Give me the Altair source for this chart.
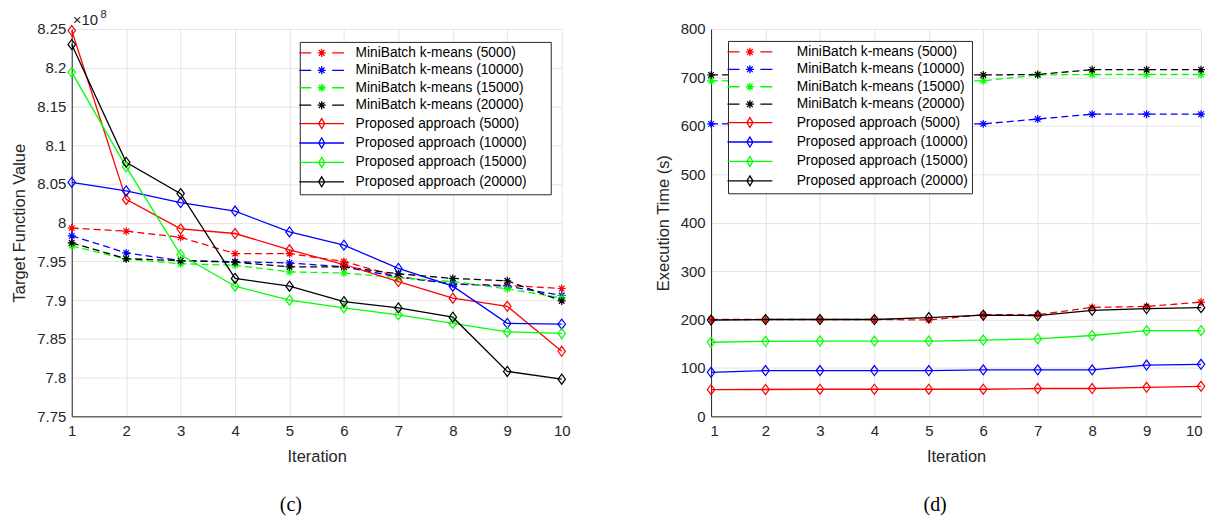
import altair as alt
import pandas as pd

# ---------------- data ----------------
iterations = [1, 2, 3, 4, 5, 6, 7, 8, 9, 10]

series_names = [
    "MiniBatch k-means (5000)",
    "MiniBatch k-means (10000)",
    "MiniBatch k-means (15000)",
    "MiniBatch k-means (20000)",
    "Proposed approach (5000)",
    "Proposed approach (10000)",
    "Proposed approach (15000)",
    "Proposed approach (20000)",
]
series_colors = ["#ff0000", "#0000ff", "#00ff00", "#000000",
                 "#ff0000", "#0000ff", "#00ff00", "#000000"]

# (c) Target function value
mb_5000_tfv = [7.993e8, 7.989e8, 7.981e8, 7.960e8, 7.960e8, 7.950e8, 7.930e8, 7.921e8, 7.919e8, 7.915e8]
mb_10000_tfv = [7.983e8, 7.961e8, 7.951e8, 7.9495e8, 7.948e8, 7.943e8, 7.930e8, 7.921e8, 7.918e8, 7.906e8]
mb_15000_tfv = [7.970e8, 7.953e8, 7.947e8, 7.945e8, 7.9365e8, 7.935e8, 7.929e8, 7.924e8, 7.9145e8, 7.903e8]
mb_20000_tfv = [7.974e8, 7.9535e8, 7.951e8, 7.949e8, 7.943e8, 7.943e8, 7.934e8, 7.928e8, 7.925e8, 7.899e8]
pa_5000_tfv = [8.248e8, 8.030e8, 7.992e8, 7.986e8, 7.965e8, 7.946e8, 7.924e8, 7.9025e8, 7.892e8, 7.834e8]
pa_10000_tfv = [8.052e8, 8.041e8, 8.026e8, 8.015e8, 7.988e8, 7.971e8, 7.941e8, 7.918e8, 7.870e8, 7.869e8]
pa_15000_tfv = [8.194e8, 8.072e8, 7.9586e8, 7.918e8, 7.900e8, 7.890e8, 7.881e8, 7.870e8, 7.859e8, 7.857e8]
pa_20000_tfv = [8.230e8, 8.078e8, 8.0375e8, 7.928e8, 7.918e8, 7.898e8, 7.890e8, 7.878e8, 7.808e8, 7.798e8]

# (d) Execution time (s)
mb_5000_time = [200, 200, 200, 200, 199, 210, 210, 225, 227, 236]
mb_10000_time = [604, 604, 604, 604, 604, 604, 614, 624, 624, 624]
mb_15000_time = [693, 693, 693, 693, 693, 693, 705, 706, 706, 706]
mb_20000_time = [705, 705, 705, 705, 705, 705, 706, 716, 716, 716]
pa_5000_time = [55, 55.5, 56, 56, 56, 56, 57.5, 57.5, 60, 62]
pa_10000_time = [91, 94.5, 94.5, 94.5, 94.5, 96, 96, 96, 106, 107.5]
pa_15000_time = [153, 155, 155.5, 155.5, 155.5, 157.5, 160, 167, 177, 177]
pa_20000_time = [199, 200, 200, 200, 204, 209, 208, 219, 222.5, 224.5]

tfv_ticks = [7.75e8, 7.8e8, 7.85e8, 7.9e8, 7.95e8, 8.0e8, 8.05e8, 8.1e8, 8.15e8, 8.2e8, 8.25e8]
time_ticks = [0, 100, 200, 300, 400, 500, 600, 700, 800]


def long_df(values_list):
    rows = []
    for name, vals in zip(series_names, values_list):
        method = "MiniBatch" if name.startswith("MiniBatch") else "Proposed"
        for it, v in zip(iterations, vals):
            rows.append({"iteration": it, "value": v, "series": name, "method": method})
    return pd.DataFrame(rows)


df_tfv = long_df([mb_5000_tfv, mb_10000_tfv, mb_15000_tfv, mb_20000_tfv,
                  pa_5000_tfv, pa_10000_tfv, pa_15000_tfv, pa_20000_tfv])
df_time = long_df([mb_5000_time, mb_10000_time, mb_15000_time, mb_20000_time,
                   pa_5000_time, pa_10000_time, pa_15000_time, pa_20000_time])

# ---------------- styles ----------------
FONT = "Liberation Sans"
STAR = "M0,-1V1M-1,0H1M-0.7,-0.7L0.7,0.7M-0.7,0.7L0.7,-0.7"
DIAMOND = "M0,-1L0.75,0L0,1L-0.75,0Z"
LEG_DASH = ("M-3.75,0H-1.75M1.75,0H3.75"
            "M0,-0.67V0.67M-0.67,0H0.67M-0.47,-0.47L0.47,0.47M-0.47,0.47L0.47,-0.47")
LEG_SOLID = "M-3.75,0H3.75M0,-0.83L0.5,0L0,0.83L-0.5,0Z"

# stroke scale for the drawn series (listed in reverse so that its legend stays separate
# from the colour/shape legend and can be switched off on its own)
stroke_scale = alt.Scale(domain=series_names[::-1], range=series_colors[::-1])
color_scale = alt.Scale(domain=series_names, range=series_colors)
shape_scale = alt.Scale(domain=series_names, range=[LEG_DASH] * 4 + [LEG_SOLID] * 4)


def panel(df, y_title, y_domain, y_ticks, label_expr, legend_x, legend_y,
          label_offset, label_pad, caption, caption_dx, flush, extra=None):
    x_axis_kw = dict(values=iterations, title="Iteration", format="d",
                     labelFlush=flush)
    if flush:
        x_axis_kw["labelFlushOffset"] = 1
    x = alt.X("iteration:Q",
              scale=alt.Scale(domain=[1, 10], nice=False, zero=False),
              axis=alt.Axis(**x_axis_kw))
    axis_kw = dict(values=y_ticks, title=y_title)
    if label_expr:
        axis_kw["labelExpr"] = label_expr
    y = alt.Y("value:Q", scale=alt.Scale(domain=y_domain, nice=False, zero=False),
              axis=alt.Axis(**axis_kw))
    stk = alt.Stroke("series:N", scale=stroke_scale, legend=None)
    base = alt.Chart(df).encode(x=x, y=y, stroke=stk)
    mb = base.transform_filter(alt.datum.method == "MiniBatch")
    pa = base.transform_filter(alt.datum.method == "Proposed")
    dashed = mb.mark_line(strokeDash=[7, 4], strokeWidth=1.3)
    stars = mb.mark_point(shape=STAR, size=64, filled=False, strokeWidth=1.2, opacity=1)
    solid = pa.mark_line(strokeWidth=1.3)
    diamonds = pa.mark_point(shape=DIAMOND, size=100, filled=False, strokeWidth=1.2, opacity=1)

    leg_kw = dict(
        orient="none", legendX=legend_x, legendY=legend_y, title=None,
        values=series_names,
        fillColor="white", strokeColor="#262626", padding=4,
        labelFont=FONT, labelFontSize=13.8, labelColor="#000000", labelLimit=400,
        symbolSize=144, symbolStrokeWidth=1.3, symbolOffset=11,
        symbolOpacity=1, symbolFillColor="transparent",
        labelOffset=label_offset, rowPadding=3.5,
    )
    if label_pad:
        # blank (non-whitespace) padding glyphs widen the legend box
        leg_kw["labelExpr"] = "datum.label + '" + "\u2800" * label_pad + "'"
    leg = alt.Legend(**leg_kw)
    # empty layer that only carries the legend
    legend_layer = alt.Chart(df).transform_filter("false").mark_point(
        filled=False, strokeWidth=1.3, opacity=1
    ).encode(
        x=x, y=y,
        color=alt.Color("series:N", scale=color_scale, legend=leg),
        shape=alt.Shape("series:N", scale=shape_scale, legend=leg),
    )
    layers = [dashed, stars, solid, diamonds, legend_layer]
    if extra:
        layers += extra
    return alt.layer(*layers).properties(
        width=492, height=389,
        title=alt.TitleParams(caption, orient="bottom", font="Liberation Serif",
                              fontSize=20, fontWeight="normal", color="#000000",
                              dx=caption_dx, offset=31, anchor="middle"),
    )


exp_df = pd.DataFrame({"t": ["\u00d710"]})
sup_df = pd.DataFrame({"t": ["8"]})
times_txt = alt.Chart(exp_df).mark_text(
    align="left", baseline="alphabetic", font=FONT, fontSize=15, color="#262626"
).encode(text="t:N", x=alt.value(1), y=alt.value(-4))
sup_txt = alt.Chart(sup_df).mark_text(
    align="left", baseline="alphabetic", font=FONT, fontSize=11, color="#262626"
).encode(text="t:N", x=alt.value(29), y=alt.value(-11))

left = panel(df_tfv, "Target Function Value", [7.75e8, 8.25e8], tfv_ticks,
             "format(datum.value / 1e8, '.3~g')", 229, 13, 27, 2, "(c)", -26, False,
             extra=[times_txt, sup_txt])
right = panel(df_time, "Execution Time (s)", [0, 800], time_ticks, None,
              17, 12, 40, 0, "(d)", -21, True)

chart = alt.hconcat(left, right, spacing=150, bounds="flush").resolve_scale(
    color="independent", shape="independent", stroke="independent",
    y="independent", x="independent"
).resolve_legend(color="independent", shape="independent").configure_axis(
    labelFont=FONT, labelFontSize=15, labelColor="#262626",
    titleFont=FONT, titleFontSize=16.5, titleFontWeight="normal", titleColor="#262626",
    gridColor="#e3e3e3", gridWidth=1, domainColor="#262626", domainWidth=1,
    ticks=False, labelPadding=6,
).configure_axisX(labelPadding=7, titlePadding=10).configure_axisY(
    titlePadding=9
).configure_view(stroke=None).properties(
    padding={"left": 3, "top": 0, "right": 0, "bottom": 0}
)

chart.save("out.html", embed_options={"renderer": "svg", "actions": False})
